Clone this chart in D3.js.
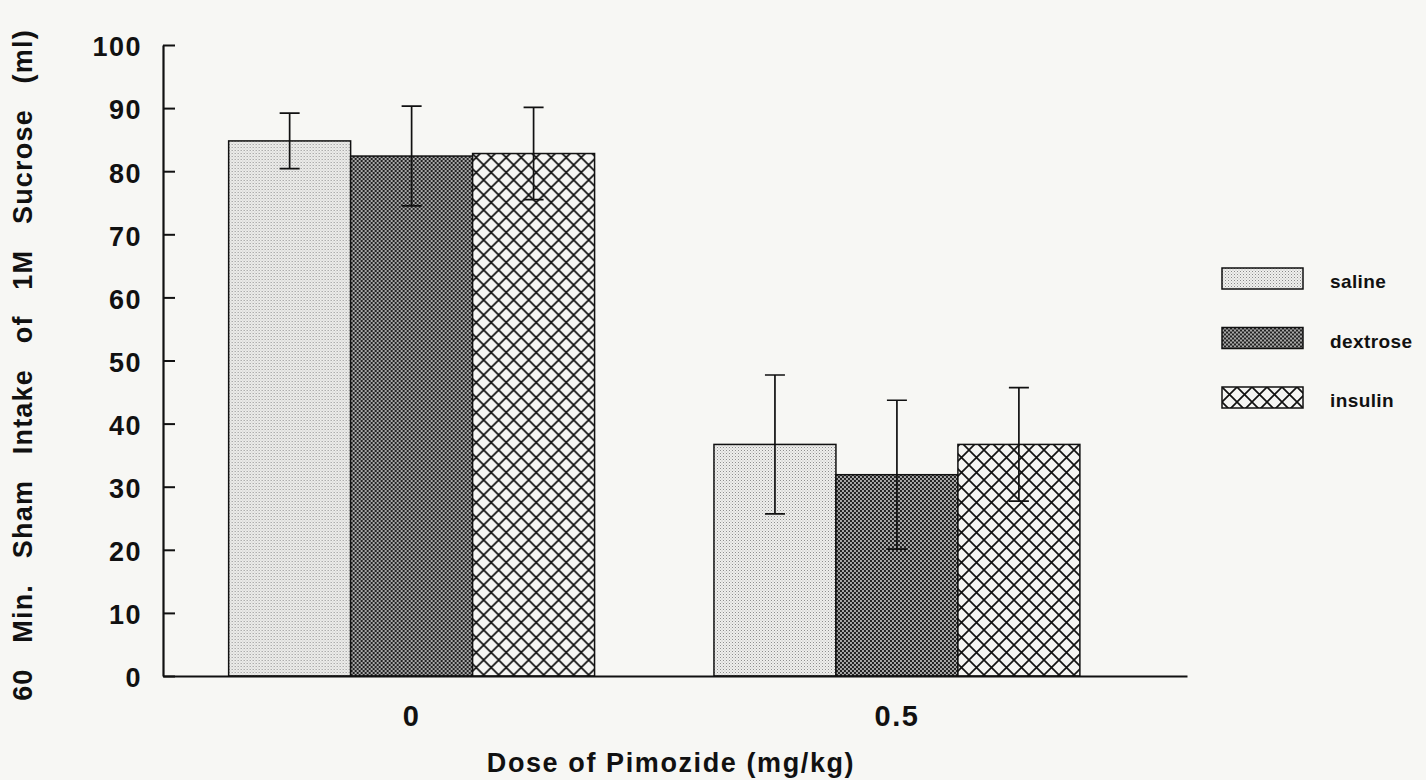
<!DOCTYPE html>
<html>
<head>
<meta charset="utf-8">
<script src="https://cdn.jsdelivr.net/npm/d3@7"></script>
<style>
  html, body { margin: 0; padding: 0; background: #f7f7f4; }
  svg { display: block; }
  text { font-family: "Liberation Sans", Arial, Helvetica, sans-serif; font-weight: bold; fill: #111; }
</style>
</head>
<body>
<svg id="chart" width="1426" height="780"></svg>
<script>
// ---- data ----
const categories = ["0", "0.5"];
const seriesNames = ["saline", "dextrose", "insulin"];
const saline = [84.8, 36.7];
const dextrose = [82.4, 31.9];
const insulin = [82.8, 36.7];
const salineErr = [4.4, 11.0];
const dextroseErr = [7.9, 11.8];
const insulinErr = [7.3, 9.0];
const yTicks = [0, 10, 20, 30, 40, 50, 60, 70, 80, 90, 100];
const xTitle = "Dose of Pimozide (mg/kg)";
const yTitle = "60 Min. Sham Intake of 1M Sucrose (ml)";

const values = [saline, dextrose, insulin];
const errs = [salineErr, dextroseErr, insulinErr];

const svg = d3.select("#chart");
svg.append("rect").attr("width", 1426).attr("height", 780).attr("fill", "#f7f7f4");

// ---- patterns ----
const defs = svg.append("defs");
// saline: fine stipple
const p1 = defs.append("pattern").attr("id", "pat-saline").attr("patternUnits", "userSpaceOnUse")
  .attr("width", 3).attr("height", 3);
p1.append("rect").attr("width", 3).attr("height", 3).attr("fill", "#f0f0ee");
p1.append("rect").attr("x", 0).attr("y", 0).attr("width", 1).attr("height", 1).attr("fill", "#8a8a8a");
p1.append("rect").attr("x", 1.5).attr("y", 1.5).attr("width", 1).attr("height", 1).attr("fill", "#b0b0b0");
// dextrose: dark checker
const p2 = defs.append("pattern").attr("id", "pat-dextrose").attr("patternUnits", "userSpaceOnUse")
  .attr("width", 4).attr("height", 4);
p2.append("rect").attr("width", 4).attr("height", 4).attr("fill", "#a8a8a8");
p2.append("rect").attr("x", 0).attr("y", 0).attr("width", 2).attr("height", 2).attr("fill", "#222");
p2.append("rect").attr("x", 2).attr("y", 2).attr("width", 2).attr("height", 2).attr("fill", "#222");
// insulin: diamond crosshatch
const s = 15;
const p3 = defs.append("pattern").attr("id", "pat-insulin").attr("patternUnits", "userSpaceOnUse")
  .attr("width", s).attr("height", s);
p3.append("rect").attr("width", s).attr("height", s).attr("fill", "#f5f5f3");
p3.append("path").attr("d", `M0,0 L${s},${s} M${s},0 L0,${s} M-1,${s-1} L1,${s+1} M${s-1},-1 L${s+1},1`)
  .attr("stroke", "#111").attr("stroke-width", 1.7);
const fills = { saline: "url(#pat-saline)", dextrose: "url(#pat-dextrose)", insulin: "url(#pat-insulin)" };

// ---- scales ----
const y = d3.scaleLinear().domain([0, 100]).range([676, 45]);
const x = d3.scaleBand().domain(categories).range([163, 1187])
  .paddingInner(0.246).paddingOuter(0.178).align(0.38);
const xs = d3.scaleBand().domain(seriesNames).range([0, x.bandwidth()]);

// ---- bars ----
const groups = svg.append("g").selectAll("g").data(categories).join("g")
  .attr("transform", d => `translate(${x(d)},0)`);

seriesNames.forEach((name, si) => {
  groups.append("rect")
    .attr("x", xs(name))
    .attr("width", xs.bandwidth())
    .attr("y", (d, i) => y(values[si][i]))
    .attr("height", (d, i) => y(0) - y(values[si][i]))
    .attr("fill", fills[name])
    .attr("stroke", "#111").attr("stroke-width", 1.5);
});

// ---- error bars ----
const capW = 10;
seriesNames.forEach((name, si) => {
  const cx = xs(name) + xs.bandwidth() / 2;
  groups.each(function (d, i) {
    const g = d3.select(this);
    const v = values[si][i], e = errs[si][i];
    const t = y(v + e), b = y(v - e);
    const path = `M${cx},${t} L${cx},${b} M${cx - capW},${t} L${cx + capW},${t} M${cx - capW},${b} L${cx + capW},${b}`;
    g.append("path").attr("d", path).attr("stroke", "#111").attr("stroke-width", 1.7).attr("fill", "none");
  });
});

// ---- axes ----
const yAxis = d3.axisLeft(y).tickValues(yTicks).tickSize(-12).tickSizeOuter(0).tickPadding(21);
const gy = svg.append("g").attr("transform", "translate(163,0)").call(yAxis);
gy.select(".domain").attr("stroke", "#111").attr("stroke-width", 2.2);
gy.selectAll(".tick line").attr("stroke", "#111").attr("stroke-width", 2);
gy.selectAll(".tick text").attr("font-size", 27).attr("font-family", "Liberation Sans, Arial, sans-serif")
  .attr("font-weight", "bold").attr("letter-spacing", 1.5).attr("fill", "#111").attr("dy", "0.4em");

const xAxis = d3.axisBottom(x).tickSize(0).tickSizeOuter(0).tickPadding(29);
const gx = svg.append("g").attr("transform", "translate(0,676)").call(xAxis);
gx.select(".domain").attr("stroke", "#111").attr("stroke-width", 2.2);
gx.selectAll(".tick text").attr("font-size", 29).attr("font-family", "Liberation Sans, Arial, sans-serif")
  .attr("font-weight", "bold").attr("letter-spacing", 1.5).attr("fill", "#111");

// ---- titles ----
svg.append("text").attr("x", 671).attr("y", 772).attr("text-anchor", "middle")
  .attr("font-size", 27).attr("letter-spacing", 1.6).text(xTitle);

svg.append("text").attr("transform", "translate(32,365) rotate(-90)").attr("text-anchor", "middle")
  .attr("font-size", 27).attr("letter-spacing", 1.2).attr("word-spacing", 17).text(yTitle);

// ---- legend ----
const legY = d3.scalePoint().domain(seriesNames).range([268, 387]);
const leg = svg.append("g").selectAll("g").data(seriesNames).join("g")
  .attr("transform", d => `translate(1222,${legY(d)})`);
leg.append("rect").attr("width", 81).attr("height", 21)
  .attr("fill", d => fills[d]).attr("stroke", "#111").attr("stroke-width", 1.5);
leg.append("text").attr("x", 108).attr("y", 20).attr("font-size", 19).attr("letter-spacing", 0.4).text(d => d);
</script>
</body>
</html>
